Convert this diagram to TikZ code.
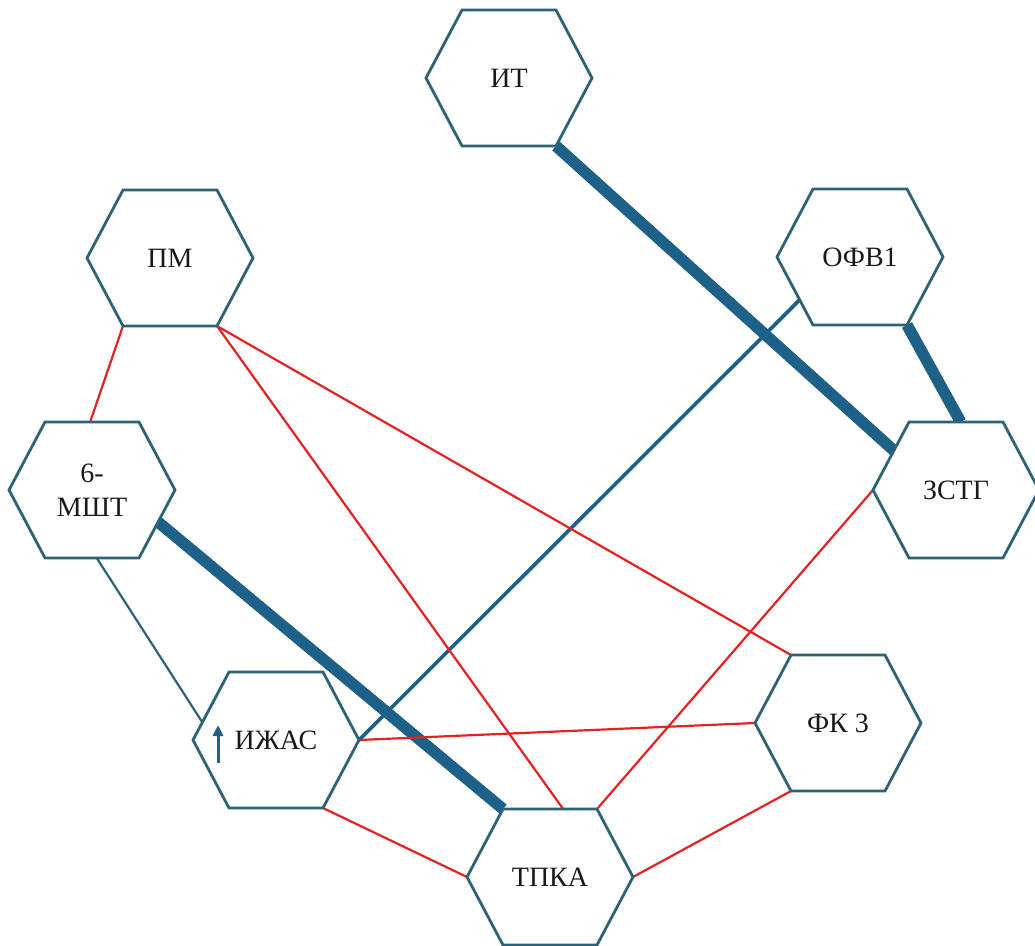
\documentclass[tikz,border=0pt]{standalone}
\usepackage{fontspec}
\setmainfont{Liberation Serif}
\usetikzlibrary{calc,backgrounds,arrows.meta}
\definecolor{hexborder}{HTML}{2E6275}
\definecolor{thickblue}{HTML}{1D6088}
\definecolor{linkred}{HTML}{E42222}
\tikzset{
  hexlabel/.style={draw=none,align=center,font=\fontsize{28}{34}\selectfont,text=black!90},
  hexframe/.style={draw=hexborder,line width=2.8pt,fill=white,line join=miter},
  strong/.style={draw=thickblue,line width=11.5pt},
  medium/.style={draw=thickblue,line width=3.6pt},
  thinblue/.style={draw=hexborder,line width=2.2pt},
  redlink/.style={draw=linkred,line width=2.2pt},
}
\newcommand{\hexnode}[4]{%
  \node[hexlabel] (#1) at (#2,#3) {#4};
  \coordinate (#1-nw) at ([shift={(-47,-68)}]#1.center);
  \coordinate (#1-ne) at ([shift={(47,-68)}]#1.center);
  \coordinate (#1-e)  at ([shift={(83,0)}]#1.center);
  \coordinate (#1-se) at ([shift={(47,68)}]#1.center);
  \coordinate (#1-sw) at ([shift={(-47,68)}]#1.center);
  \coordinate (#1-w)  at ([shift={(-83,0)}]#1.center);
  \begin{pgfonlayer}{hexlayer}
  \path[hexframe] (#1-nw) -- (#1-ne) -- (#1-e) -- (#1-se) -- (#1-sw) -- (#1-w) -- cycle;
  \end{pgfonlayer}
}
\pgfdeclarelayer{bglayer}
\pgfdeclarelayer{hexlayer}
\pgfdeclarelayer{linklayer}
\pgfsetlayers{bglayer,linklayer,hexlayer,main}
\begin{document}
\begin{tikzpicture}[x=1pt,y=-1pt]
\useasboundingbox (0,0) rectangle (1035,945);
\begin{pgfonlayer}{bglayer}
\fill[white] (0,0) rectangle (1035,945);
\end{pgfonlayer}
\hexnode{IT}{509}{78}{ИТ}
\hexnode{PM}{170}{258}{ПМ}
\hexnode{OFV}{860}{257}{ОФВ1}
\hexnode{MSHT}{92}{490}{6-\\МШТ}
\hexnode{ZSTG}{956}{490}{ЗСТГ}
\hexnode{IZHAS}{276}{740}{ИЖАС}
\hexnode{FK}{838}{723}{ФК 3}
\hexnode{TPKA}{550}{877}{ТПКА}
\coordinate (arrowbase) at ([shift={(-58,23)}]IZHAS.center);
\coordinate (arrowtip) at ([shift={(-58,-15)}]IZHAS.center);
\draw[draw=thickblue,line width=3pt,-{Triangle[length=11pt,width=10pt]}] (arrowbase) -- (arrowtip);
\begin{pgfonlayer}{linklayer}
\draw[strong] (IT-se) -- ($(ZSTG-nw)!0.42!(ZSTG-w)$);
\draw[strong] (OFV-se) -- ($(ZSTG-nw)!0.55!(ZSTG-ne)$);
\draw[strong] ($(MSHT-e)!0.47!(MSHT-se)$) -- (TPKA-nw);
\draw[medium] ($(OFV-w)!0.63!(OFV-sw)$) -- (IZHAS-e);
\draw[thinblue] ($(MSHT-sw)!0.55!(MSHT-se)$) -- ($(IZHAS-nw)!0.74!(IZHAS-w)$);
\draw[redlink] (PM-sw) -- ($(MSHT-nw)!0.48!(MSHT-ne)$);
\draw[redlink] (PM-se) -- ($(TPKA-nw)!0.64!(TPKA-ne)$);
\draw[redlink] (PM-se) -- (FK-nw);
\draw[redlink] (ZSTG-w) -- (TPKA-ne);
\draw[redlink] (IZHAS-e) -- (FK-w);
\draw[redlink] (IZHAS-se) -- (TPKA-w);
\draw[redlink] (FK-sw) -- (TPKA-e);
\end{pgfonlayer}
\end{tikzpicture}
\end{document}
